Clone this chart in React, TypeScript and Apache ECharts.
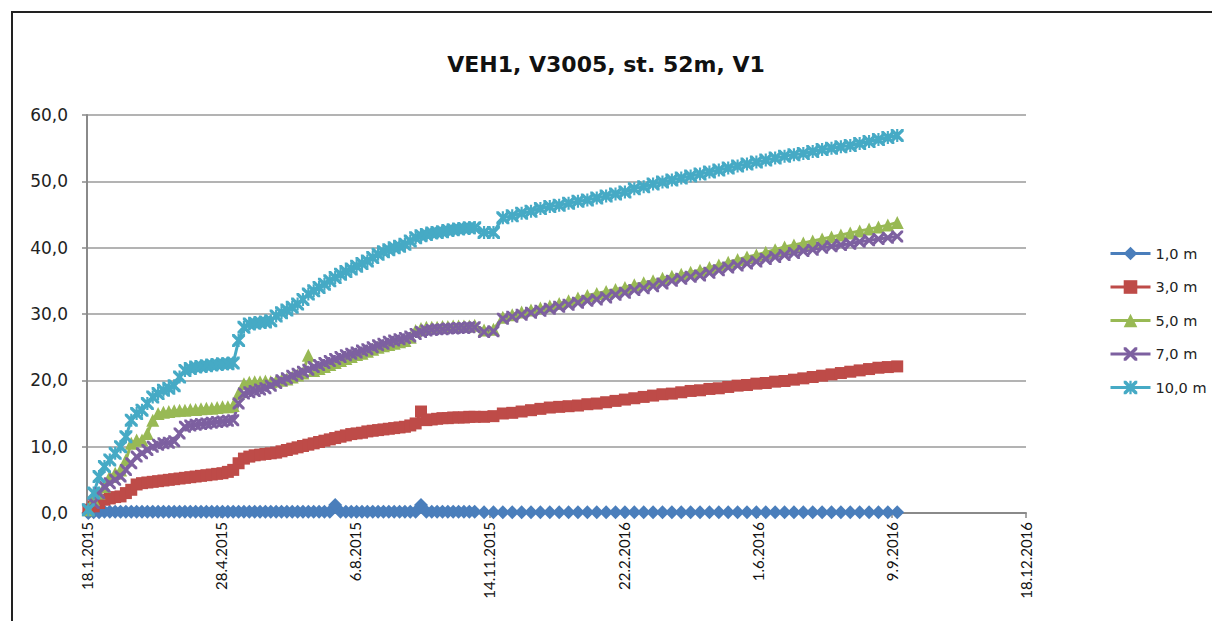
import React, { useEffect, useRef } from "react";
import * as echarts from "echarts";

const chartTitle = "VEH1, V3005, st. 52m, V1";
const seriesNames = ["1,0 m", "3,0 m", "5,0 m", "7,0 m", "10,0 m"];
const seriesColors = ["#4A7EBB", "#BE4B48", "#98B954", "#7D60A0", "#46AAC5"];

// measurement dates
const dates = [
  "2015-01-19", "2015-01-23", "2015-01-27", "2015-01-31",
  "2015-02-04", "2015-02-08", "2015-02-12", "2015-02-16", "2015-02-20", "2015-02-24", "2015-02-28",
  "2015-03-04", "2015-03-08", "2015-03-12", "2015-03-16", "2015-03-20", "2015-03-24", "2015-03-28",
  "2015-04-01", "2015-04-05", "2015-04-09", "2015-04-13", "2015-04-17", "2015-04-21", "2015-04-25", "2015-04-29",
  "2015-05-03", "2015-05-07", "2015-05-11", "2015-05-15", "2015-05-19", "2015-05-23", "2015-05-27", "2015-05-31",
  "2015-06-04", "2015-06-08", "2015-06-12", "2015-06-16", "2015-06-20", "2015-06-24", "2015-06-28",
  "2015-07-02", "2015-07-06", "2015-07-10", "2015-07-14", "2015-07-18", "2015-07-22", "2015-07-26", "2015-07-30",
  "2015-08-03", "2015-08-07", "2015-08-11", "2015-08-15", "2015-08-19", "2015-08-23", "2015-08-27", "2015-08-31",
  "2015-09-04", "2015-09-08", "2015-09-12", "2015-09-16", "2015-09-20", "2015-09-24", "2015-09-28",
  "2015-10-02", "2015-10-06", "2015-10-10", "2015-10-14", "2015-10-18", "2015-10-22", "2015-10-26", "2015-10-30",
  "2015-11-03", "2015-11-10", "2015-11-17",
  "2015-11-24", "2015-12-01", "2015-12-08", "2015-12-15", "2015-12-22", "2015-12-29",
  "2016-01-05", "2016-01-12", "2016-01-19", "2016-01-26",
  "2016-02-02", "2016-02-09", "2016-02-16", "2016-02-23",
  "2016-03-01", "2016-03-08", "2016-03-15", "2016-03-22", "2016-03-29",
  "2016-04-05", "2016-04-12", "2016-04-19", "2016-04-26",
  "2016-05-03", "2016-05-10", "2016-05-17", "2016-05-24", "2016-05-31",
  "2016-06-07", "2016-06-14", "2016-06-21", "2016-06-28",
  "2016-07-05", "2016-07-12", "2016-07-19", "2016-07-26",
  "2016-08-02", "2016-08-09", "2016-08-16", "2016-08-23", "2016-08-30",
  "2016-09-06", "2016-09-13",
];

const depth1 = [
  0.0, 0.1, 0.1, 0.2,
  0.2, 0.2, 0.2, 0.2, 0.2, 0.2, 0.2,
  0.2, 0.2, 0.2, 0.2, 0.2, 0.2, 0.2,
  0.2, 0.2, 0.2, 0.2, 0.2, 0.2, 0.2, 0.2,
  0.2, 0.2, 0.2, 0.2, 0.2, 0.2, 0.2, 0.2,
  0.2, 0.2, 0.2, 0.2, 0.2, 0.2, 0.2,
  0.2, 0.2, 0.2, 0.2, 0.2, 1.2, 0.2, 0.2,
  0.2, 0.2, 0.2, 0.2, 0.2, 0.2, 0.2, 0.2,
  0.2, 0.2, 0.2, 0.2, 0.2, 1.2, 0.2,
  0.2, 0.2, 0.2, 0.2, 0.2, 0.2, 0.2, 0.2,
  0.2, 0.1, 0.1,
  0.1, 0.1, 0.1, 0.1, 0.1, 0.1,
  0.1, 0.1, 0.1, 0.1,
  0.1, 0.1, 0.1, 0.1,
  0.1, 0.1, 0.1, 0.1, 0.1,
  0.1, 0.1, 0.1, 0.1,
  0.1, 0.1, 0.1, 0.1, 0.1,
  0.1, 0.1, 0.1, 0.1,
  0.1, 0.1, 0.1, 0.1,
  0.1, 0.1, 0.1, 0.1, 0.1,
  0.1, 0.1,
];

const depth3 = [
  0.5, 1.0, 1.5, 2.0,
  2.2, 2.4, 2.5, 3.0, 3.5, 4.3, 4.5,
  4.6, 4.7, 4.8, 4.9, 5.0, 5.1, 5.2,
  5.3, 5.4, 5.5, 5.6, 5.7, 5.8, 5.9, 6.0,
  6.2, 6.5, 7.5, 8.2, 8.5, 8.7, 8.8, 8.9,
  9.0, 9.1, 9.3, 9.5, 9.7, 9.9, 10.1,
  10.3, 10.5, 10.7, 10.9, 11.1, 11.3, 11.5, 11.7,
  11.9, 12.0, 12.1, 12.3, 12.4, 12.5, 12.6, 12.7,
  12.8, 12.9, 13.0, 13.2, 13.5, 15.3, 14.0,
  14.1, 14.2, 14.3, 14.3, 14.4, 14.4, 14.4, 14.5,
  14.5, 14.5, 14.6,
  15.0, 15.1, 15.3, 15.5, 15.7, 15.9,
  16.0, 16.1, 16.2, 16.4,
  16.5, 16.7, 16.9, 17.1,
  17.3, 17.5, 17.7, 17.9, 18.0,
  18.2, 18.4, 18.5, 18.7,
  18.8, 19.0, 19.2, 19.3, 19.5,
  19.6, 19.8, 19.9, 20.1,
  20.3, 20.5, 20.7, 20.9,
  21.1, 21.3, 21.5, 21.7, 21.9,
  22.0, 22.1,
];

const depth5 = [
  0.5, 2.0, 3.0, 4.0,
  5.5, 6.0, 6.5, 8.0, 10.5, 11.0, 11.0,
  12.0, 14.0, 15.0, 15.2, 15.3, 15.4, 15.5,
  15.5, 15.6, 15.6, 15.7, 15.8, 15.8, 15.9, 16.0,
  16.0, 16.2, 18.0, 19.5, 19.7, 19.8, 19.8, 19.9,
  19.8, 19.9, 20.0, 20.2, 20.5, 20.8, 21.1,
  23.8, 21.5, 21.8, 22.1, 22.4, 22.7, 23.0, 23.3,
  23.6, 23.9, 24.1, 24.4, 24.7, 25.0, 25.2, 25.4,
  25.6, 25.8, 26.0, 26.5, 27.5, 27.8, 28.0,
  28.0, 28.0, 28.1, 28.1, 28.2, 28.2, 28.2, 28.2,
  28.3, 27.6, 27.7,
  29.5, 29.9, 30.3, 30.6, 30.9, 31.2,
  31.6, 32.0, 32.4, 32.8,
  33.1, 33.4, 33.7, 34.0,
  34.4, 34.7, 35.0, 35.4, 35.7,
  36.0, 36.3, 36.6, 37.0,
  37.4, 37.8, 38.2, 38.6, 38.9,
  39.3, 39.7, 40.1, 40.4,
  40.7, 41.0, 41.3, 41.6,
  41.9, 42.2, 42.5, 42.8, 43.1,
  43.4, 43.8,
];

const depth7 = [
  0.5, 1.5, 3.0, 4.0,
  4.5, 5.0, 5.5, 6.5, 7.5, 8.5, 9.0,
  9.5, 10.0, 10.3, 10.5, 10.6, 10.8, 12.0,
  13.0, 13.2, 13.3, 13.4, 13.5, 13.6, 13.7, 13.8,
  13.9, 14.0, 16.5, 18.0, 18.2, 18.4, 18.6, 18.8,
  19.2, 19.6, 20.0, 20.3, 20.7, 21.0, 21.3,
  21.6, 22.0, 22.3, 22.6, 22.9, 23.2, 23.5, 23.8,
  24.0, 24.2, 24.5, 24.7, 25.0, 25.3, 25.5, 25.8,
  26.0, 26.2, 26.4, 26.6, 27.0, 27.3, 27.5,
  27.6, 27.7, 27.7, 27.8, 27.8, 27.9, 27.9, 28.0,
  28.0, 27.3, 27.4,
  29.3, 29.6, 29.9, 30.2, 30.5, 30.8,
  31.1, 31.4, 31.7, 32.0,
  32.2, 32.5, 32.9, 33.2,
  33.6, 33.9, 34.2, 34.6, 35.0,
  35.3, 35.6, 35.8, 36.2,
  36.6, 37.0, 37.3, 37.6, 37.9,
  38.3, 38.6, 38.9, 39.2,
  39.5, 39.7, 40.0, 40.2,
  40.4, 40.6, 40.9, 41.1, 41.3,
  41.5, 41.7,
];

const depth10 = [
  0.5, 3.0, 5.5, 7.0,
  8.0, 9.0, 10.0, 11.5, 14.0, 15.0, 15.5,
  16.5, 17.5, 18.0, 18.5, 18.8, 19.2, 20.5,
  21.5, 21.8, 22.0, 22.1, 22.2, 22.3, 22.4, 22.5,
  22.5, 22.6, 26.0, 28.0, 28.5, 28.6, 28.7, 28.8,
  29.0, 29.7, 30.2, 30.6, 31.0, 31.5, 32.2,
  33.0, 33.5, 34.0, 34.5, 35.0, 35.5, 36.0, 36.4,
  36.8, 37.2, 37.6, 38.0, 38.5, 39.0, 39.4, 39.7,
  40.0, 40.2, 40.5, 41.0, 41.5, 41.8, 42.0,
  42.2, 42.3, 42.4, 42.6, 42.7, 42.8, 42.9, 43.0,
  43.0, 42.3, 42.3,
  44.5, 44.8, 45.2, 45.5, 45.9, 46.2,
  46.4, 46.7, 47.0, 47.2,
  47.5, 47.8, 48.1, 48.4,
  48.9, 49.2, 49.6, 49.9, 50.2,
  50.5, 50.8, 51.1, 51.4,
  51.7, 52.0, 52.3, 52.6, 52.9,
  53.2, 53.5, 53.8, 54.0,
  54.2, 54.5, 54.8, 55.0,
  55.2, 55.4, 55.7, 56.0, 56.3,
  56.6, 56.9,
];

const seriesValues = [depth1, depth3, depth5, depth7, depth10];

// x axis: days since 18.1.2015, ticks every 100 days up to 18.12.2016
const xMinDay = 0;
const xMaxDay = 700;
const xStepDays = 100;
const yMin = 0;
const yMax = 60;
const yStep = 10;

const ORIGIN = Date.UTC(2015, 0, 18);
const DAY = 86400000;
const dayOf = (s: string) => {
  const [y, m, d] = s.split("-").map(Number);
  return (Date.UTC(y, m - 1, d) - ORIGIN) / DAY;
};
const fmtDate = (v: number) => {
  const dt = new Date(ORIGIN + v * DAY);
  return `${dt.getUTCDate()}.${dt.getUTCMonth() + 1}.${dt.getUTCFullYear()}`;
};

const X_SHAPE = "M0,0L2.2,0L6,3.8L9.8,0L12,0L12,2.2L8.2,6L12,9.8L12,12L9.8,12L6,8.2L2.2,12L0,12L0,9.8L3.8,6L0,2.2Z";
const STAR_SHAPE = X_SHAPE + "M5,0L7,0L7,12L5,12Z";
const symbols = ["diamond", "rect", "triangle", "path://" + X_SHAPE, "path://" + STAR_SHAPE];
const symbolSizes = [14, 12, 13, 12, 13];

const SANS = "DejaVu Sans";

export default function App() {
  const ref = useRef<HTMLDivElement>(null);
  useEffect(() => {
    if (!ref.current) return;
    const chart = echarts.init(ref.current, undefined, { renderer: "svg" });
    chart.setOption({
      animation: false,
      backgroundColor: "#ffffff",
      title: {
        text: chartTitle,
        left: "center",
        top: 48,
        textStyle: { fontFamily: SANS, fontSize: 22, fontWeight: "bold", color: "#111" },
      },
      graphic: [
        {
          type: "rect",
          shape: { x: 12, y: 12, width: 1400, height: 800 },
          style: { fill: "none", stroke: "#222", lineWidth: 2 },
          silent: true,
        },
      ],
      legend: {
        orient: "vertical",
        left: 1104,
        top: 241,
        itemWidth: 40,
        itemHeight: 17,
        itemGap: 18.5,
        data: seriesNames,
        lineStyle: { width: 3 },
        textStyle: { fontFamily: SANS, fontSize: 14.5, color: "#222" },
      },
      grid: { left: 87, right: 186, top: 115, bottom: 108, containLabel: false },
      xAxis: {
        type: "value",
        min: xMinDay,
        max: xMaxDay,
        interval: xStepDays,
        axisLine: { show: true, onZero: false, lineStyle: { color: "#8a8a8a", width: 2 } },
        axisTick: { show: true, length: 5, lineStyle: { color: "#8a8a8a", width: 1.5 } },
        splitLine: { show: false },
        axisLabel: {
          rotate: 90,
          margin: 9,
          formatter: (v: number) => fmtDate(v),
          fontFamily: "Lato",
          fontSize: 15,
          color: "#111",
        },
      },
      yAxis: {
        type: "value",
        min: yMin,
        max: yMax,
        interval: yStep,
        axisLine: { show: true, lineStyle: { color: "#8a8a8a", width: 2 } },
        axisTick: { show: true, length: 5, lineStyle: { color: "#8a8a8a", width: 1.5 } },
        splitLine: { show: true, lineStyle: { color: "#9a9a9a", width: 1.5 } },
        axisLabel: {
          margin: 19,
          formatter: (v: number) => v.toFixed(1).replace(".", ","),
          fontFamily: SANS,
          fontSize: 17,
          color: "#222",
        },
      },
      series: seriesNames.map((name, i) => ({
        name,
        type: "line",
        data: dates.map((d, k) => [dayOf(d), seriesValues[i][k]]),
        symbol: symbols[i],
        symbolSize: symbolSizes[i],
        showAllSymbol: true,
        symbolKeepAspect: true,
        lineStyle: { width: 3, color: seriesColors[i] },
        itemStyle: { color: seriesColors[i] },
        emphasis: { disabled: true },
      })),
    });
    return () => chart.dispose();
  }, []);
  return (
    <div
      ref={ref}
      style={{ position: "absolute", left: 0, top: 0, width: 1212, height: 621, background: "#fff" }}
    />
  );
}
